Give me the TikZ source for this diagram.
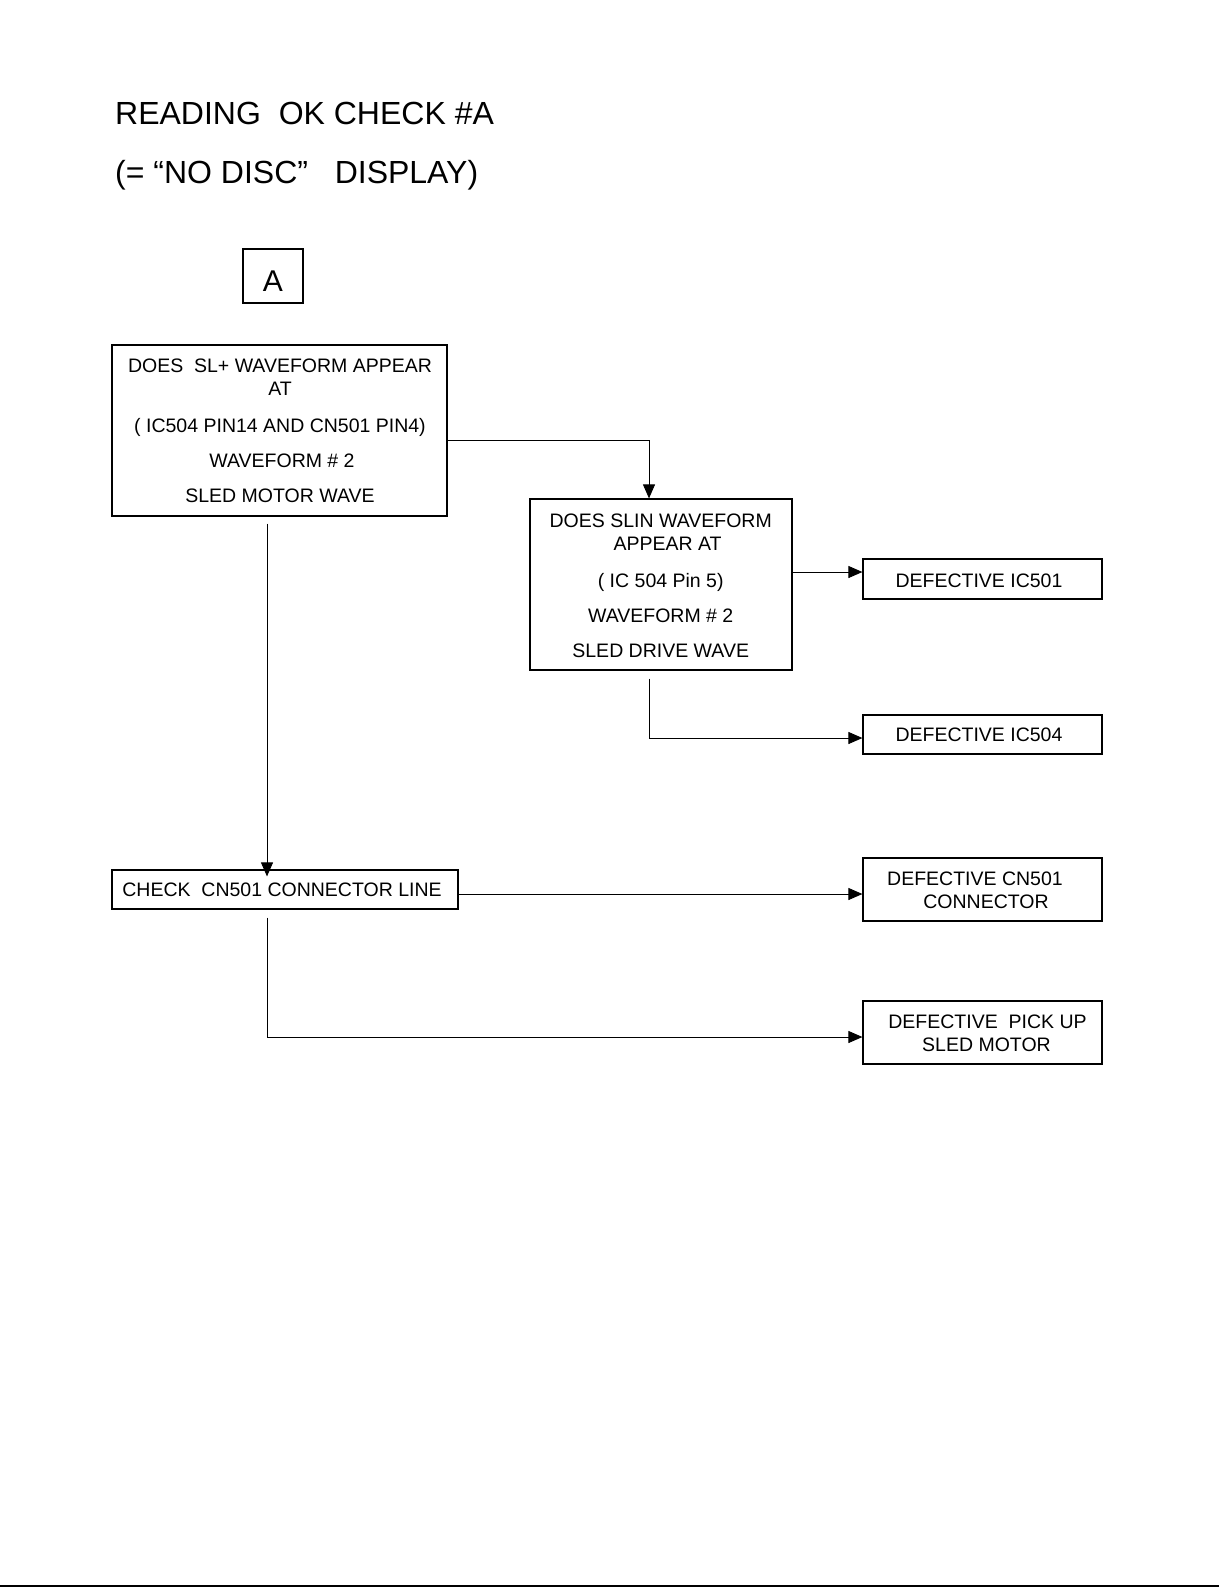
\documentclass[tikz,border=0pt]{standalone}
\usepackage{fontspec}
\setmainfont{Liberation Sans}
\usetikzlibrary{arrows.meta}
\begin{document}
\begin{tikzpicture}[x=1pt,y=-1pt,
  box/.style={draw,line width=1.2pt,inner sep=0pt},
  txt/.style={anchor=base,inner sep=0pt,font=\fontsize{19.5}{22}\selectfont},
  arr/.style={line width=0.9pt,-{Triangle[length=14pt,width=12pt]}},
  ln/.style={line width=0.9pt}]
\useasboundingbox (0,0) rectangle (1219,1587);
% titles
\node[anchor=base west,inner sep=0pt,font=\fontsize{32}{36}\selectfont] (t1) at (115,124) {READING\ \ OK CHECK \#A};
\node[anchor=base west,inner sep=0pt,font=\fontsize{32}{36}\selectfont] (t2) at (115,183) {(= “NO DISC”\ \ \ DISPLAY)};
% box A
\node[box,minimum width=60pt,minimum height=54pt] (a) at (273,276) {};
\node[anchor=base,inner sep=0pt,font=\fontsize{30}{34}\selectfont] (alab) at (273,291) {A};
% question 1
\node[box,minimum width=335pt,minimum height=171pt] (q1) at (279.5,430.5) {};
\node[txt] (q1a) at (280,372.3) {DOES\ \ SL+ WAVEFORM APPEAR};
\node[txt] (q1b) at (280,395.6) {AT};
\node[txt] (q1c) at (280,432) {( IC504 PIN14 AND CN501 PIN4)};
\node[txt] (q1d) at (282,467.5) {WAVEFORM \# 2};
\node[txt] (q1e) at (280,502.9) {SLED MOTOR WAVE};
% question 2
\node[box,minimum width=262pt,minimum height=171pt] (q2) at (661,584.5) {};
\node[txt] (q2a) at (660.7,527.2) {DOES SLIN WAVEFORM};
\node[txt] (q2b) at (667.5,550.5) {APPEAR AT};
\node[txt] (q2c) at (660.7,587) {( IC 504 Pin 5)};
\node[txt] (q2d) at (660.7,622.4) {WAVEFORM \# 2};
\node[txt] (q2e) at (660.7,657.8) {SLED DRIVE WAVE};
% results
\node[box,minimum width=239pt,minimum height=40pt] (d1) at (982.5,579) {};
\node[txt] (d1a) at (979,587) {DEFECTIVE IC501};
\node[box,minimum width=239pt,minimum height=39pt] (d2) at (982.5,734.5) {};
\node[txt] (d2a) at (979,741.8) {DEFECTIVE IC504};
\node[box,minimum width=346pt,minimum height=39pt] (c) at (285,889.5) {};
\node[txt] (ca) at (282,896.8) {CHECK\ \ CN501 CONNECTOR LINE};
\node[box,minimum width=239pt,minimum height=63pt] (d3) at (982.5,889.5) {};
\node[txt] (d3a) at (975,885.7) {DEFECTIVE CN501};
\node[txt] (d3b) at (986,908.9) {CONNECTOR};
\node[box,minimum width=239pt,minimum height=63pt] (d4) at (982.5,1032.5) {};
\node[txt] (d4a) at (987.5,1028.4) {DEFECTIVE\ \ PICK UP};
\node[txt] (d4b) at (986.5,1051.7) {SLED MOTOR};
% connectors
\draw[arr] ([yshift=-9.5pt]q1.east) -| ([xshift=-12pt]q2.north);
\draw[arr] ([yshift=12.5pt]q2.east) -- ([yshift=12.5pt]q2.east -| d1.west);
\draw[arr] ([xshift=-12pt,yshift=-8pt]q2.south) |- ([yshift=-3.5pt]d2.west);
\draw[arr] ([xshift=-12.5pt,yshift=-7pt]q1.south) -- ([xshift=-12.5pt,yshift=-7pt]q1.south |- c.north);
\draw[arr] ([yshift=-4.5pt]c.east) -- ([yshift=-4.5pt]c.east -| d3.west);
\draw[arr] ([xshift=-18pt,yshift=-8pt]c.south) |- ([yshift=-4.5pt]d4.west);
% bottom rule
\fill (0,1584.8) rectangle (1219,1587);
\end{tikzpicture}
\end{document}
